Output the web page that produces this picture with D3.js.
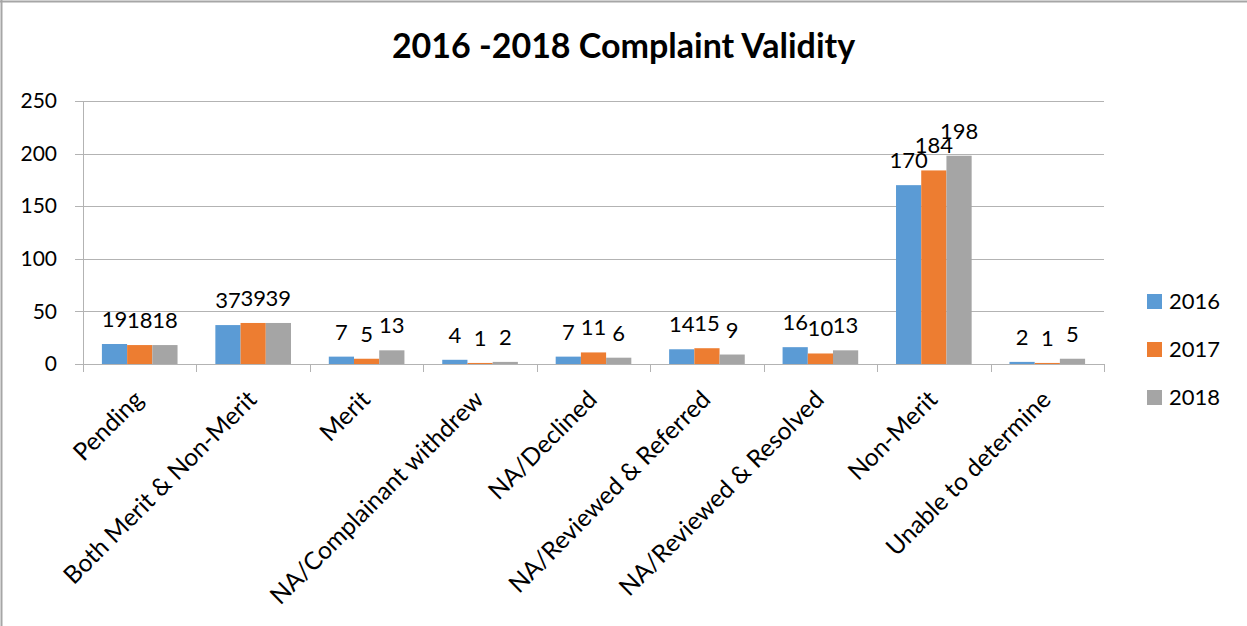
<!DOCTYPE html>
<html>
<head>
<meta charset="utf-8">
<script src="https://cdn.jsdelivr.net/npm/d3@7"></script>
<style>
  body { margin: 0; background: #fff; }
  text { font-family: Lato, "Open Sans", sans-serif; fill: #000; }
</style>
</head>
<body>
<div id="chart"></div>
<script>
var categories = ["Pending", "Both Merit & Non-Merit", "Merit", "NA/Complainant withdrew",
  "NA/Declined", "NA/Reviewed & Referred", "NA/Reviewed & Resolved", "Non-Merit", "Unable to determine"];
var seriesNames = ["2016", "2017", "2018"];
var values2016 = [19, 37, 7, 4, 7, 14, 16, 170, 2];
var values2017 = [18, 39, 5, 1, 11, 15, 10, 184, 1];
var values2018 = [18, 39, 13, 2, 6, 9, 13, 198, 5];
var yTicks = [0, 50, 100, 150, 200, 250];
var colors = ["#5b9bd5", "#ed7d31", "#a5a5a5"];

var W = 1247, H = 626;
var margin = { top: 101, right: 143, bottom: 262, left: 83 },
    width  = W - margin.left - margin.right,
    height = H - margin.top - margin.bottom;

var series = seriesNames.map(function(name, i) {
  return { name: name, values: [values2016, values2017, values2018][i] };
});

var svg = d3.select("#chart").append("svg")
  .attr("width", W)
  .attr("height", H);

// chart frame (only top and left edges are visible in the crop)
svg.append("line").attr("x1", 1.5).attr("x2", 1.5).attr("y1", 0).attr("y2", H)
  .attr("stroke", "#a6a6a6").attr("stroke-width", 2);
svg.append("line").attr("x1", 0).attr("x2", W).attr("y1", 1.5).attr("y2", 1.5)
  .attr("stroke", "#a6a6a6").attr("stroke-width", 2);

svg.append("text")
  .attr("x", W / 2)
  .attr("y", 58)
  .attr("text-anchor", "middle")
  .style("font-size", "34px")
  .style("font-weight", "bold")
  .text("2016 -2018 Complaint Validity");

var g = svg.append("g")
  .attr("transform", "translate(" + margin.left + "," + margin.top + ")");

var x0 = d3.scaleBand().domain(categories).range([0, width]);
var x1 = d3.scaleBand().domain(seriesNames).range([0, x0.bandwidth()]).paddingOuter(0.75);
var y = d3.scaleLinear().domain([0, 250]).range([height, 0]);

// gridlines
g.append("g")
  .selectAll("line")
  .data(yTicks)
  .enter().append("line")
    .attr("x1", -8)
    .attr("x2", width)
    .attr("y1", function(d) { return Math.round(y(d)) + 0.5; })
    .attr("y2", function(d) { return Math.round(y(d)) + 0.5; })
    .attr("stroke", "#b3b3b3")
    .attr("stroke-width", 1);

// y axis
var yAxis = g.append("g")
  .call(d3.axisLeft(y).tickValues(yTicks).tickSize(0).tickPadding(26));
yAxis.select(".domain").attr("stroke", "#b3b3b3");
yAxis.selectAll("text")
  .style("font-size", "21px")
  .style("font-family", "Lato, sans-serif")
  .attr("fill", "#000");

// bars
var groups = g.selectAll(".cat")
  .data(categories)
  .enter().append("g")
    .attr("class", "cat")
    .attr("transform", function(d) { return "translate(" + x0(d) + ",0)"; });

groups.selectAll("rect")
  .data(function(d, i) {
    return series.map(function(s, j) { return { name: s.name, value: s.values[i], k: j }; });
  })
  .enter().append("rect")
    .attr("x", function(d) { return x1(d.name); })
    .attr("y", function(d) { return y(d.value); })
    .attr("width", x1.bandwidth())
    .attr("height", function(d) { return height - y(d.value); })
    .attr("fill", function(d) { return colors[d.k]; });

// data labels
groups.selectAll(".lbl")
  .data(function(d, i) {
    return series.map(function(s, j) { return { name: s.name, value: s.values[i] }; });
  })
  .enter().append("text")
    .attr("class", "lbl")
    .attr("x", function(d) { return x1(d.name) + x1.bandwidth() / 2; })
    .attr("y", function(d) { return y(d.value) - 17; })
    .attr("text-anchor", "middle")
    .style("font-size", "22px")
    .text(function(d) { return d.value; });

// x axis
var xAxis = g.append("g")
  .attr("transform", "translate(0," + height + ")");
xAxis.append("line")
  .attr("x1", 0).attr("x2", width)
  .attr("y1", 0.5).attr("y2", 0.5)
  .attr("stroke", "#b3b3b3");
xAxis.selectAll(".tick")
  .data(d3.range(categories.length + 1))
  .enter().append("line")
    .attr("x1", function(i) { return Math.round(i * x0.step()) + 0.5; })
    .attr("x2", function(i) { return Math.round(i * x0.step()) + 0.5; })
    .attr("y1", 0).attr("y2", 8)
    .attr("stroke", "#b3b3b3");
xAxis.selectAll(".xl")
  .data(categories)
  .enter().append("text")
    .attr("class", "xl")
    .attr("text-anchor", "end")
    .attr("transform", function(d) {
      return "translate(" + (x0(d) + x0.bandwidth() / 2 - 1) + ",31) rotate(-45)";
    })
    .attr("dy", "0.35em")
    .style("font-size", "24.5px")
    .text(function(d) { return d; });

// legend
var legend = svg.append("g")
  .attr("transform", "translate(1147,301)");
var items = legend.selectAll("g")
  .data(series)
  .enter().append("g")
    .attr("transform", function(d, i) { return "translate(0," + i * 48 + ")"; });
items.append("rect")
  .attr("x", 0).attr("y", -7)
  .attr("width", 15).attr("height", 15)
  .attr("fill", function(d, i) { return colors[i]; });
items.append("text")
  .attr("x", 22)
  .attr("y", 0)
  .attr("dy", "0.35em")
  .style("font-size", "22px")
  .text(function(d) { return d.name; });
</script>
</body>
</html>
